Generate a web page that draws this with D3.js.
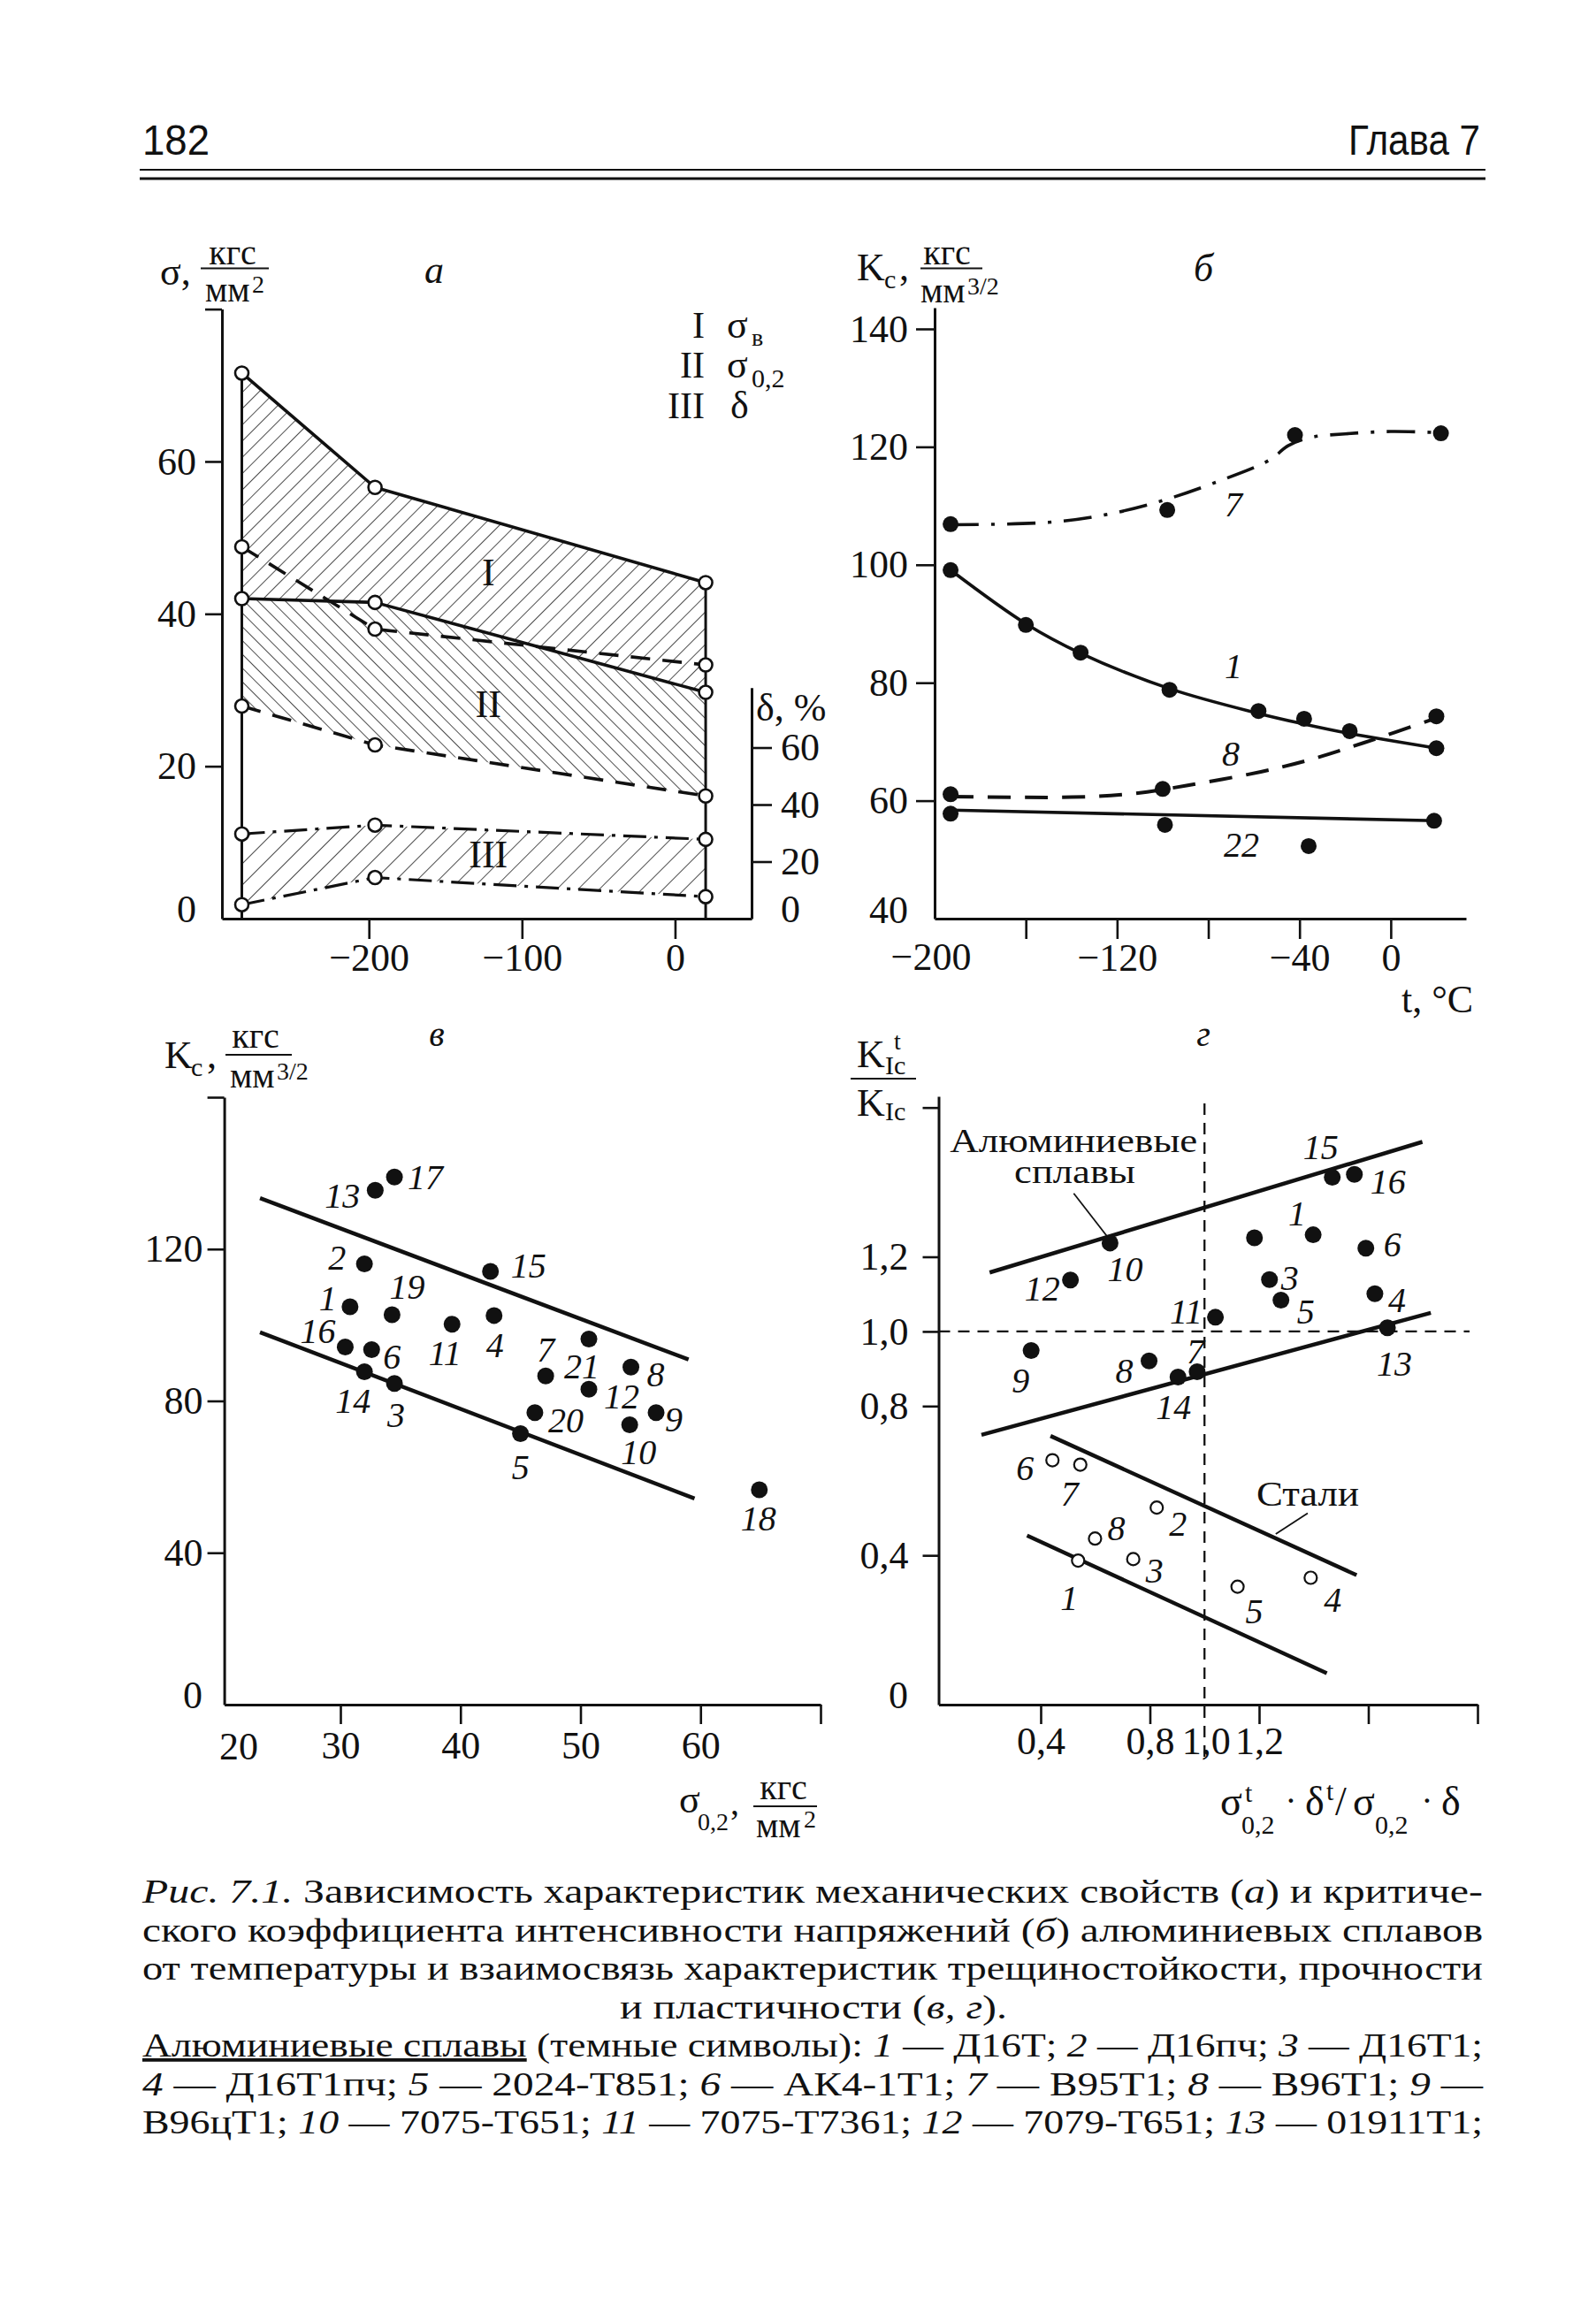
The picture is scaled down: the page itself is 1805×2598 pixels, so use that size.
<!DOCTYPE html>
<html><head><meta charset="utf-8">
<script src="https://cdn.jsdelivr.net/npm/d3@7"></script>
<style>
html,body{margin:0;padding:0;background:#fff;}
svg{display:block;}
text{font-family:"Liberation Serif","Times New Roman",serif;fill:#111;}
</style></head><body>
<svg id="page" width="1805" height="2598"></svg>
<script>
// ================= DATA =================
// Panel а : σ, δ vs temperature
const aTemps        = [-283, -196, 20];
const aSigmaBUpper  = [71.6, 56.6, 44.1];   // I, solid
const aSigmaBLower  = [48.8, 38.0, 33.3];   // I, dashed
const aSigma02Upper = [42.0, 41.5, 29.7];   // II, solid
const aSigma02Lower = [27.9, 22.8, 16.1];   // II, dashed
const aDeltaUpper   = [29.7, 32.8, 27.8];   // III, dash-dot (δ, %)
const aDeltaLower   = [4.9, 14.4, 7.7];     // III, dash-dot (δ, %)
const aLeftTicks  = [20, 40, 60];
const aRightTicks = [20, 40, 60];
const aBottomTicks = [-200, -100, 0];
const aLegendNum = ["I", "II", "III"];

// Panel б : Kc vs t
const b7T = [-193, -98, -42, 22],               b7K = [106.9, 109.3, 122.0, 122.3];
const b7FitT = [-193, -150, -125, -100, -76, -53, -45, -35, -20, 0, 22];
const b7FitK = [106.8, 107.2, 108.5, 110.9, 114.1, 117.8, 120.2, 121.6, 122.2, 122.6, 122.4];
const b1T = [-193, -160, -136, -97, -58, -38, -18, 20], b1K = [99.1, 89.8, 85.1, 78.8, 75.2, 73.9, 71.8, 68.9];
const b1FitK = [99.1, 90.0, 85.0, 79.0, 74.8, 73.0, 71.4, 68.9];
const b8T = [-193, -100, 20],                   b8K = [61.1, 62.0, 74.3];
const b8FitT = [-193, -140, -113, -89, -57, -35, -12, 20];
const b8FitK = [60.7, 60.6, 61.2, 62.6, 64.9, 67.0, 69.8, 74.0];
const b22T = [-193, -99, -36, 19],              b22K = [57.8, 55.9, 52.3, 56.6];
const b22FitT = [-193, 20],                     b22FitK = [58.4, 56.6];
const bCurveNames = ["7", "1", "8", "22"];
const bLeftTicks = [60, 80, 100, 120, 140];
const bBottomTicks = [-160, -120, -80, -40, 0];
const bBottomLabeled = [-120, -40, 0];

// Panel в : Kc vs σ0,2
const cLabels  = ["13","17","2","15","1","19","4","11","16","6","7","21","8","12","14","3","20","9","10","5","18"];
const cSigma02 = [32.9,34.5,32.0,42.5,30.8,34.3,42.8,39.3,30.4,32.6,47.1,50.7,54.2,50.7,32.0,34.5,46.2,56.3,54.1,45.0,64.9];
const cKc      = [135.5,139.0,116.1,114.1,104.8,102.7,102.5,100.2,94.2,93.5,86.6,96.3,88.9,83.1,87.7,84.6,76.9,76.9,73.7,71.4,56.6];
const cUpperX = [23.3, 59.0], cUpperY = [133.4, 90.9];
const cLowerX = [23.3, 59.5], cLowerY = [98.1, 54.3];
const cLeftTicks = [40, 80, 120, 160];
const cBottomTicks = [30, 40, 50, 60, 70];

// Panel г : K^t_Ic/K_Ic vs σ^t·δ^t/σ·δ
const dAlLabels = ["15","16","","1","6","10","12","3","5","4","11","13","9","8","7","14"];
const dAlX = [1.468,1.549,1.183,1.398,1.591,0.654,0.509,1.238,1.280,1.624,1.040,1.670,0.365,0.797,0.973,0.903];
const dAlY = [1.413,1.421,1.251,1.259,1.223,1.237,1.138,1.139,1.084,1.101,1.038,1.010,0.949,0.921,0.892,0.878];
const dStLabels = ["6","7","2","8","3","1","5","4"];
const dStX = [0.443,0.545,0.825,0.599,0.739,0.537,1.121,1.389];
const dStY = [0.655,0.643,0.528,0.445,0.390,0.386,0.316,0.340];
const dAlUpperX = [0.213, 1.798], dAlUpperY = [1.158, 1.508];
const dAlLowerX = [0.183, 1.829], dAlLowerY = [0.723, 1.050];
const dStUpperX = [0.436, 1.557], dStUpperY = [0.720, 0.347];
const dStLowerX = [0.350, 1.448], dStLowerY = [0.453, 0.084];
const dLeftTicks = [0.4, 0.8, 1.0, 1.2, 1.6];
const dBottomTicks = [0.4, 0.8, 1.2, 1.6, 2.0];
const dRef = 1.0;
const dAlNote = ["Алюминиевые", "сплавы"], dStNote = "Стали";

// ================= LAYOUT (label offsets, px) =================
const cLabDx = [-37,35,-31,43,-25,17,1,-8,-31,23,0,-8,28,37,-13,2,35,20,10,0,-1];
const cLabDy = [6,0,-7,-7,-10,-32,33,32,-19,7,-30,30,8,8,33,35,8,7,30,38,32];
const dAlDx = [-13,38,0,-18,30,17,-32,23,28,25,-33,8,-12,-28,-2,-5];
const dAlDy = [-35,8,0,-25,-5,29,9,-2,13,7,-7,40,34,11,-23,34];
const dStDx = [-31,-12,24,24,24,-10,19,25];
const dStDy = [8,32,18,-12,13,42,27,25];

// ================= DRAW =================
const svg = d3.select("#page");
const SANS = '"Liberation Sans",Arial,sans-serif';
const INK = "#111";

function txt(x, y, s, size, o = {}) {
  const t = svg.append("text").attr("x", x).attr("y", y).text(s)
    .attr("font-size", size)
    .attr("text-anchor", o.anchor || "start")
    .attr("font-style", o.italic ? "italic" : "normal");
  if (o.family) t.style("font-family", o.family);
  if (o.len) t.attr("textLength", o.len).attr("lengthAdjust", "spacingAndGlyphs");
  return t;
}
function seg(x1, y1, x2, y2, w, dash) {
  const l = svg.append("line").attr("x1", x1).attr("y1", y1).attr("x2", x2).attr("y2", y2)
    .attr("stroke", INK).attr("stroke-width", w);
  if (dash) l.attr("stroke-dasharray", dash);
  return l;
}
function styleAxis(g, size) {
  g.attr("font-size", size);
  g.selectAll("path.domain").attr("stroke", INK).attr("stroke-width", 3);
  g.selectAll(".tick line").attr("stroke", INK).attr("stroke-width", 2.6);
  g.selectAll(".tick text").attr("fill", INK);
}
const minus = d => d < 0 ? "\u2212" + (-d) : String(d);
const comma = d => d3.format(".1f")(d).replace(".", ",");

// hatch patterns
const defs = svg.append("defs");
function hatch(id, angle, gap, w) {
  const p = defs.append("pattern").attr("id", id).attr("patternUnits", "userSpaceOnUse")
    .attr("width", gap).attr("height", gap).attr("patternTransform", `rotate(${angle})`);
  p.append("line").attr("x1", 0).attr("y1", 0).attr("x2", 0).attr("y2", gap)
    .attr("stroke", INK).attr("stroke-width", w);
}
hatch("hI", 45, 13, 1.5);
hatch("hII", -45, 11, 1.5);
hatch("hIII", 45, 17, 1.5);

// ---------- Header ----------
txt(161, 175, "182", 48, { family: SANS, len: 76 });
txt(1525, 175, "Глава 7", 48, { family: SANS, len: 149 });
seg(158, 192, 1680, 192, 2);
seg(158, 202, 1680, 202, 3);

// ---------- Panel а ----------
const xA = d3.scaleLinear().domain([-296, 50]).range([251, 850]);
const yA = d3.scaleLinear().domain([0, 80]).range([1039, 349.6]);
const yAd = d3.scaleLinear().domain([0, 81]).range([1039, 777.8]);

const areaA = (top, bot, ys) => d3.area()
  .x((d, i) => xA(aTemps[i])).y0((d, i) => ys(bot[i])).y1((d, i) => ys(top[i]));
svg.append("path").datum(aTemps).attr("d", areaA(aSigmaBUpper, aSigma02Upper, yA)).attr("fill", "url(#hI)");
svg.append("path").datum(aTemps).attr("d", areaA(aSigma02Upper, aSigma02Lower, yA)).attr("fill", "url(#hII)");
svg.append("path").datum(aTemps).attr("d", areaA(aDeltaUpper, aDeltaLower, yAd)).attr("fill", "url(#hIII)");

const lineA = (vals, ys) => d3.line().x((d, i) => xA(aTemps[i])).y((d, i) => ys(vals[i]))(aTemps);
function pathA(vals, ys, w, dash) {
  const p = svg.append("path").attr("d", lineA(vals, ys)).attr("fill", "none")
    .attr("stroke", INK).attr("stroke-width", w).attr("stroke-linejoin", "round");
  if (dash) p.attr("stroke-dasharray", dash);
}
pathA(aSigmaBUpper, yA, 3.6);
pathA(aSigma02Upper, yA, 3.6);
pathA(aSigmaBLower, yA, 3.6, "22,14");
pathA(aSigma02Lower, yA, 3.6, "22,14");
pathA(aDeltaUpper, yAd, 3.2, "26,9,4,9");
pathA(aDeltaLower, yAd, 3.2, "26,9,4,9");
seg(xA(aTemps[0]), yA(aSigmaBUpper[0]), xA(aTemps[0]), yA(0), 3);
seg(xA(aTemps[2]), yA(aSigmaBUpper[2]), xA(aTemps[2]), yA(0), 3);

styleAxis(svg.append("g").attr("transform", `translate(${xA(-296)},0)`)
  .call(d3.axisLeft(yA).tickValues(aLeftTicks.concat([80])).tickSize(19).tickSizeOuter(0).tickPadding(10)
    .tickFormat(v => v === 80 ? "" : v)), 44);
styleAxis(svg.append("g").attr("transform", `translate(0,${yA(0)})`)
  .call(d3.axisBottom(xA).tickValues(aBottomTicks).tickSize(23).tickSizeOuter(0).tickPadding(5).tickFormat(minus)), 44);
styleAxis(svg.append("g").attr("transform", `translate(${xA(50)},0)`)
  .call(d3.axisRight(yAd).tickValues(aRightTicks).tickSize(23).tickSizeOuter(0).tickPadding(10)), 44);
txt(222, 1043, "0", 44, { anchor: "end" });
txt(883, 1043, "0", 44);

const allA = [aSigmaBUpper, aSigmaBLower, aSigma02Upper, aSigma02Lower].map(v => [v, yA])
  .concat([[aDeltaUpper, yAd], [aDeltaLower, yAd]]);
allA.forEach(([vals, ys]) => {
  svg.append("g").selectAll("circle").data(vals).join("circle")
    .attr("cx", (d, i) => xA(aTemps[i])).attr("cy", d => ys(d)).attr("r", 7.5)
    .attr("fill", "#fff").attr("stroke", INK).attr("stroke-width", 2.6);
});
// region labels
txt(xA(-122), 662, aLegendNum[0], 44, { anchor: "middle" });
txt(xA(-122), 811, aLegendNum[1], 44, { anchor: "middle" });
txt(xA(-122), 981, aLegendNum[2], 44, { anchor: "middle" });
// legend
txt(797, 382, aLegendNum[0], 42, { anchor: "end" });
txt(822, 382, "σ", 44); txt(850, 391, "в", 28);
txt(797, 427, aLegendNum[1], 42, { anchor: "end" });
txt(822, 427, "σ", 44); txt(850, 438, "0,2", 30);
txt(797, 473, aLegendNum[2], 42, { anchor: "end" });
txt(826, 473, "δ", 44);
// titles а
txt(181, 322, "σ,", 44);
txt(263, 299, "кгс", 40, { anchor: "middle" });
seg(227, 303.5, 304, 303.5, 2.2);
txt(232, 341, "мм", 40); txt(285, 331, "2", 28);
txt(491, 320, "а", 44, { anchor: "middle", italic: true });
txt(855, 815, "δ, %", 44);

// ---------- Panel б ----------
const xB = d3.scaleLinear().domain([-200, 33]).range([1057, 1658]);
const yB = d3.scaleLinear().domain([40, 143.6]).range([1039, 348]);
const lineB = d3.line().curve(d3.curveCatmullRom.alpha(0.5)).x(d => xB(d[0])).y(d => yB(d[1]));
function curveB(ts, ks, w, dash) {
  const p = svg.append("path").attr("d", lineB(ts.map((t, i) => [t, ks[i]]))).attr("fill", "none")
    .attr("stroke", INK).attr("stroke-width", w);
  if (dash) p.attr("stroke-dasharray", dash);
}
curveB(b7FitT, b7FitK, 3.6, "32,14,4,14");
curveB(b1T, b1FitK, 3.6);
curveB(b8FitT, b8FitK, 4, "26,16");
curveB(b22FitT, b22FitK, 3.6);
[[b7T, b7K], [b1T, b1K], [b8T, b8K], [b22T, b22K]].forEach(([ts, ks]) => {
  svg.append("g").selectAll("circle").data(ts).join("circle")
    .attr("cx", d => xB(d)).attr("cy", (d, i) => yB(ks[i])).attr("r", 9).attr("fill", INK);
});
styleAxis(svg.append("g").attr("transform", `translate(${xB(-200)},0)`)
  .call(d3.axisLeft(yB).tickValues(bLeftTicks).tickSize(21).tickSizeOuter(0).tickPadding(9)), 44);
styleAxis(svg.append("g").attr("transform", `translate(0,${yB(40)})`)
  .call(d3.axisBottom(xB).tickValues(bBottomTicks).tickSize(23).tickSizeOuter(0).tickPadding(5)
    .tickFormat(d => bBottomLabeled.includes(d) ? minus(d) : "")), 44);
txt(1053, 1097, minus(-200), 44, { anchor: "middle" });
txt(1027, 1044, "40", 44, { anchor: "end" });
txt(1395, 584, bCurveNames[0], 40, { anchor: "middle", italic: true });
txt(1395, 767, bCurveNames[1], 40, { anchor: "middle", italic: true });
txt(1392, 866, bCurveNames[2], 40, { anchor: "middle", italic: true });
txt(1404, 969, bCurveNames[3], 40, { anchor: "middle", italic: true });
txt(969, 317, "K", 44); txt(1000, 326, "c", 30); txt(1017, 317, ",", 44);
txt(1071, 299, "кгс", 40, { anchor: "middle" });
seg(1041, 303.5, 1111, 303.5, 2.2);
txt(1041, 342, "мм", 40); txt(1094, 333, "3/2", 28);
txt(1361, 318, "б", 44, { anchor: "middle", italic: true });
txt(1585, 1145, "t, °C", 44);

// ---------- Panel в ----------
const xC = d3.scaleLinear().domain([20.32, 70]).range([253.6, 928]);
const yC = d3.scaleLinear().domain([0, 160]).range([1928, 1241]);
const lineC = d3.line().x(d => xC(d[0])).y(d => yC(d[1]));
[[cUpperX, cUpperY], [cLowerX, cLowerY]].forEach(([xs, ys]) => {
  svg.append("path").attr("d", lineC(xs.map((x, i) => [x, ys[i]]))).attr("stroke", INK)
    .attr("stroke-width", 4.5).attr("fill", "none");
});
svg.append("g").selectAll("circle").data(cSigma02).join("circle")
  .attr("cx", d => xC(d)).attr("cy", (d, i) => yC(cKc[i])).attr("r", 9.5).attr("fill", INK);
svg.append("g").selectAll("text").data(cLabels).join("text")
  .attr("x", (d, i) => xC(cSigma02[i]) + cLabDx[i]).attr("y", (d, i) => yC(cKc[i]) + cLabDy[i] + 14)
  .attr("text-anchor", "middle").attr("font-size", 40).attr("font-style", "italic").text(d => d);
styleAxis(svg.append("g").attr("transform", `translate(${xC(20.32)},0)`)
  .call(d3.axisLeft(yC).tickValues(cLeftTicks).tickSize(19).tickSizeOuter(0).tickPadding(5)
    .tickFormat(v => v === 160 ? "" : v)), 44);
styleAxis(svg.append("g").attr("transform", `translate(0,${yC(0)})`)
  .call(d3.axisBottom(xC).tickValues(cBottomTicks).tickSize(22).tickSizeOuter(0).tickPadding(8)
    .tickFormat(v => v === 70 ? "" : v)), 44);
txt(270, 1990, "20", 44, { anchor: "middle" });
txt(229, 1932, "0", 44, { anchor: "end" });
txt(186, 1208, "K", 44); txt(216, 1217, "c", 30); txt(234, 1208, ",", 44);
txt(289, 1185, "кгс", 40, { anchor: "middle" });
seg(255, 1193, 330, 1193, 2.2);
txt(260, 1230, "мм", 40); txt(313, 1221, "3/2", 28);
txt(494, 1183, "в", 40, { anchor: "middle", italic: true });
txt(768, 2050, "σ", 44); txt(789, 2070, "0,2", 28); txt(826, 2052, ",", 40);
txt(886, 2035, "кгс", 40, { anchor: "middle" });
seg(852, 2043, 924, 2043, 2.2);
txt(855, 2078, "мм", 40); txt(909, 2067, "2", 28);

// ---------- Panel г ----------
const xD = d3.scaleLinear().domain([0.026, 2.0]).range([1061.5, 1671]);
const yD = d3.scaleLinear().domain([0, 1.63]).range([1928, 1240]);
seg(xD(dRef), 1248, xD(dRef), 1988, 2.3, "13,9");
seg(xD(0.026), yD(dRef), 1662, yD(dRef), 2.3, "13,9");
const lineD = d3.line().x(d => xD(d[0])).y(d => yD(d[1]));
[[dAlUpperX, dAlUpperY], [dAlLowerX, dAlLowerY], [dStUpperX, dStUpperY], [dStLowerX, dStLowerY]].forEach(([xs, ys]) => {
  svg.append("path").attr("d", lineD(xs.map((x, i) => [x, ys[i]]))).attr("stroke", INK)
    .attr("stroke-width", 4.5).attr("fill", "none");
});
svg.append("g").selectAll("circle").data(dAlX).join("circle")
  .attr("cx", d => xD(d)).attr("cy", (d, i) => yD(dAlY[i])).attr("r", 9.5).attr("fill", INK);
svg.append("g").selectAll("circle").data(dStX).join("circle")
  .attr("cx", d => xD(d)).attr("cy", (d, i) => yD(dStY[i])).attr("r", 7)
  .attr("fill", "#fff").attr("stroke", INK).attr("stroke-width", 2.2);
svg.append("g").selectAll("text").data(dAlLabels).join("text")
  .attr("x", (d, i) => xD(dAlX[i]) + dAlDx[i]).attr("y", (d, i) => yD(dAlY[i]) + dAlDy[i] + 14)
  .attr("text-anchor", "middle").attr("font-size", 40).attr("font-style", "italic").text(d => d);
svg.append("g").selectAll("text").data(dStLabels).join("text")
  .attr("x", (d, i) => xD(dStX[i]) + dStDx[i]).attr("y", (d, i) => yD(dStY[i]) + dStDy[i] + 14)
  .attr("text-anchor", "middle").attr("font-size", 40).attr("font-style", "italic").text(d => d);
styleAxis(svg.append("g").attr("transform", `translate(${xD(0.026)},0)`)
  .call(d3.axisLeft(yD).tickValues(dLeftTicks).tickSize(18).tickSizeOuter(0).tickPadding(16)
    .tickFormat(v => v === 1.6 ? "" : comma(v))), 44);
styleAxis(svg.append("g").attr("transform", `translate(0,${yD(0)})`)
  .call(d3.axisBottom(xD).tickValues(dBottomTicks).tickSize(22).tickSizeOuter(0).tickPadding(3)
    .tickFormat(v => v <= 1.2 ? comma(v) : "")), 44);
txt(xD(dRef) + 2, 1984, comma(dRef), 44, { anchor: "middle" });
txt(1027, 1932, "0", 44, { anchor: "end" });
txt(xD(0.521), yD(1.481), dAlNote[0], 38, { anchor: "middle", len: 280 });
txt(xD(0.525), yD(1.398), dAlNote[1], 38, { anchor: "middle", len: 137 });
seg(xD(0.521), yD(1.370), xD(0.643), yD(1.255), 1.8);
txt(xD(1.378), yD(0.533), dStNote, 40, { anchor: "middle", len: 116 });
seg(xD(1.378), yD(0.513), xD(1.261), yD(0.457), 1.8);
txt(969, 1207, "K", 44); txt(1011, 1187, "t", 28); txt(1001, 1215, "Ic", 30);
seg(962, 1220, 1036, 1220, 2.2);
txt(969, 1262, "K", 44); txt(1001, 1267, "Ic", 30);
txt(1361, 1183, "г", 40, { anchor: "middle", italic: true });
txt(1380, 2053, "σ", 46); txt(1408, 2038, "t", 30); txt(1404, 2074, "0,2", 30);
txt(1460, 2050, "·", 40, { anchor: "middle" });
txt(1476, 2053, "δ", 46); txt(1500, 2036, "t", 30);
txt(1510, 2053, "/", 46);
txt(1530, 2053, "σ", 46); txt(1555, 2074, "0,2", 30);
txt(1614, 2050, "·", 40, { anchor: "middle" });
txt(1630, 2053, "δ", 46);

// ---------- Caption ----------
const capLines = [
  [["Рис. 7.1.", "i"], [" Зависимость характеристик механических свойств (", ""], ["а", "i"], [") и критиче-", ""]],
  [["ского коэффициента интенсивности напряжений (", ""], ["б", "i"], [") алюминиевых сплавов", ""]],
  [["от температуры и взаимосвязь характеристик трещиностойкости, прочности", ""]],
  [["и пластичности (", ""], ["в, г", "i"], [").", ""]],
  [["Алюминиевые сплавы", "u"], [" (темные символы): ", ""], ["1", "i"], [" — Д16Т; ", ""], ["2", "i"], [" — Д16пч; ", ""], ["3", "i"], [" — Д16Т1;", ""]],
  [["4", "i"], [" — Д16Т1пч; ", ""], ["5", "i"], [" — 2024-Т851; ", ""], ["6", "i"], [" — АК4-1Т1; ", ""], ["7", "i"], [" — В95Т1; ", ""], ["8", "i"], [" — В96Т1; ", ""], ["9", "i"], [" —", ""]],
  [["В96цТ1; ", ""], ["10", "i"], [" — 7075-Т651; ", ""], ["11", "i"], [" — 7075-Т7361; ", ""], ["12", "i"], [" — 7079-Т651; ", ""], ["13", "i"], [" — 01911Т1;", ""]]
];
const capX0 = 161, capX1 = 1677, capY0 = 2152, capDY = 43.5;
capLines.forEach((parts, li) => {
  const centered = li === 3;
  const t = svg.append("text").attr("font-size", 38).attr("y", capY0 + li * capDY)
    .attr("x", centered ? 701 : capX0).attr("xml:space", "preserve");
  parts.forEach(([s, st]) => {
    const ts = t.append("tspan").text(s);
    if (st === "i") ts.attr("font-style", "italic");
    if (st === "u") ts.attr("text-decoration", "underline");
  });
  const target = centered ? 438 : (capX1 - capX0);
  t.attr("textLength", target).attr("lengthAdjust", "spacingAndGlyphs");
});
</script>
</body></html>
